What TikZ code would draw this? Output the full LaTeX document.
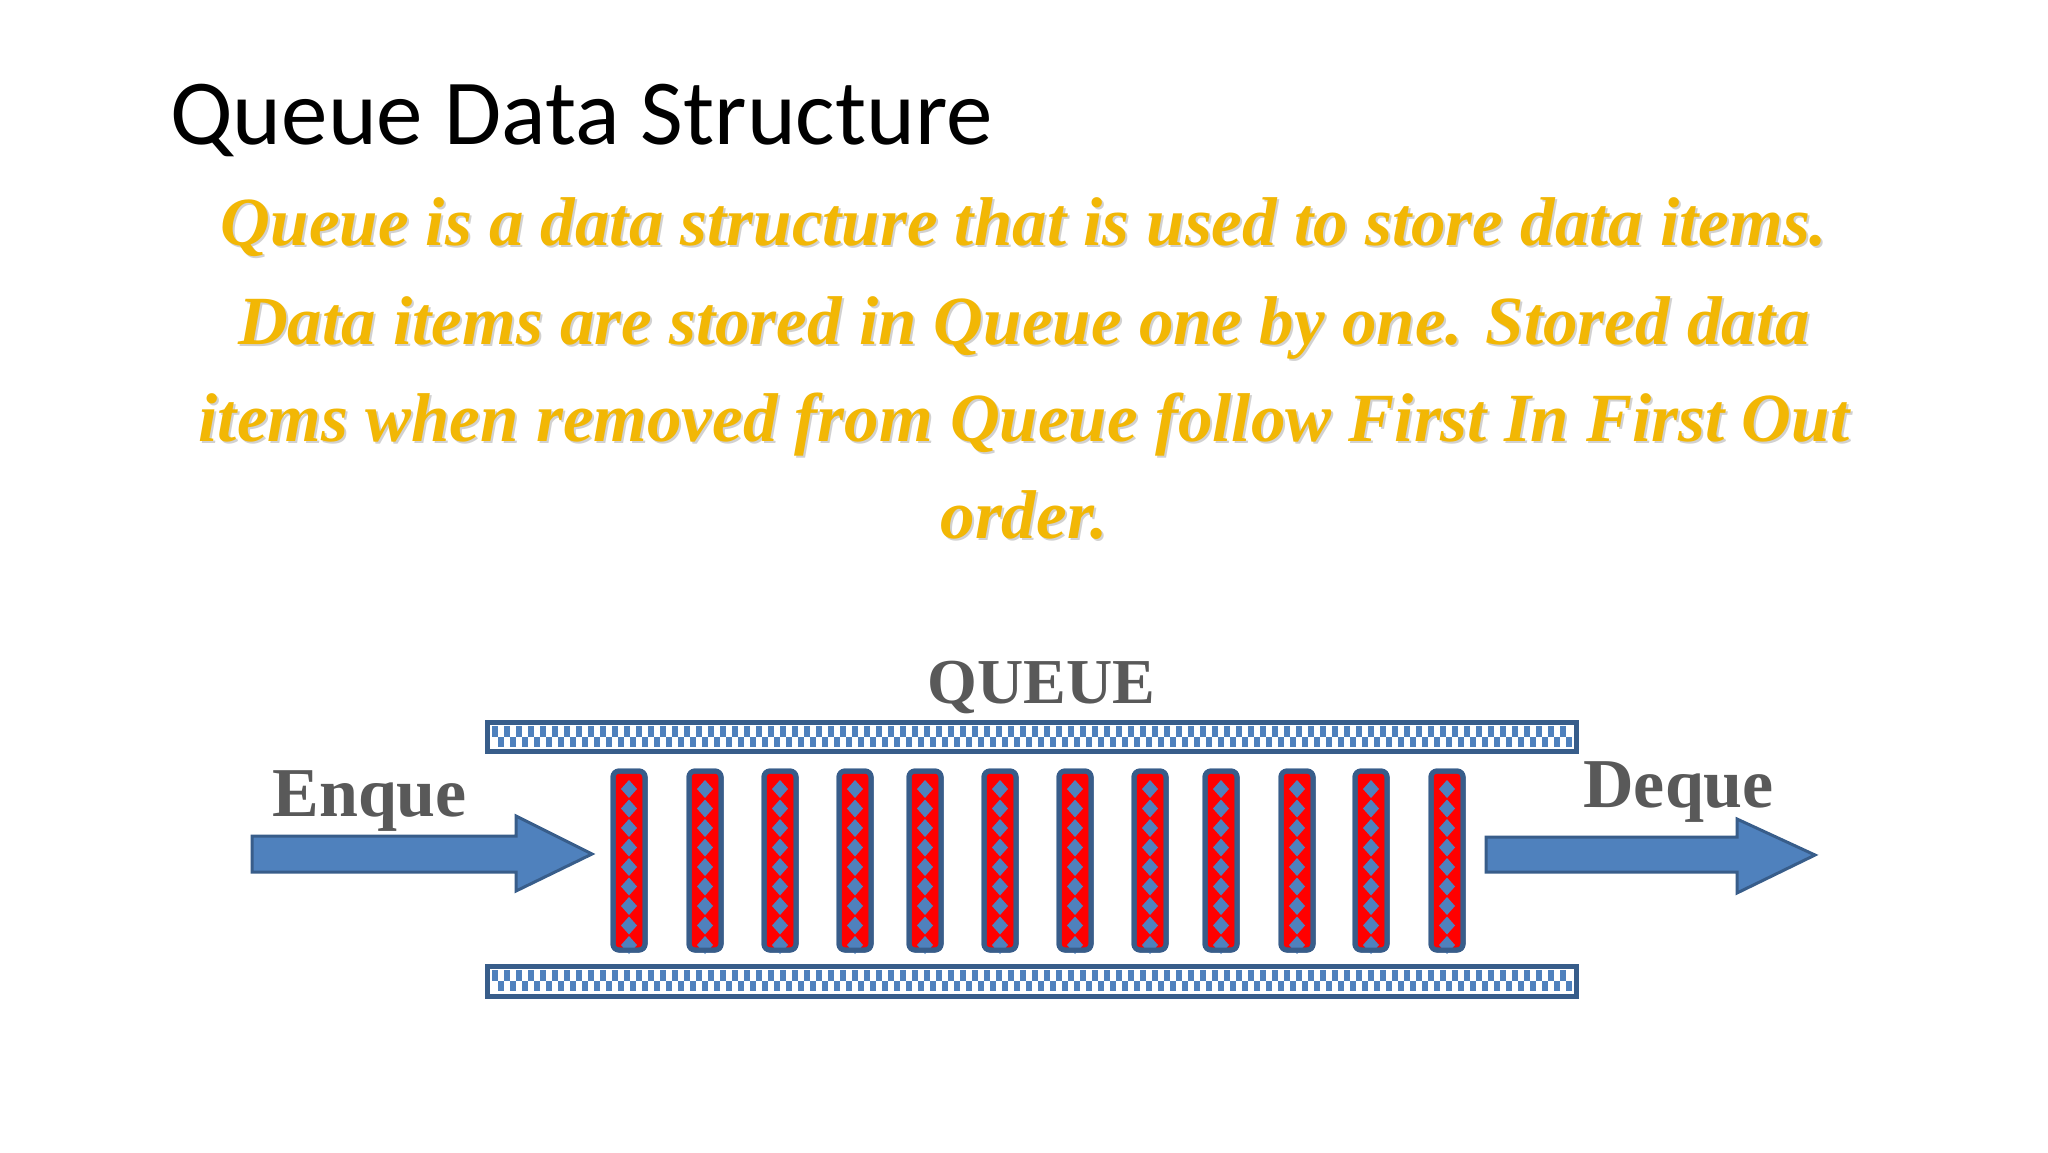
\documentclass[tikz,border=0pt]{standalone}
\usepackage{fontspec}
\setmainfont{Liberation Serif}
\newfontfamily\titlefont{Carlito}
\begin{document}
\begin{tikzpicture}[x=0.5pt,y=-0.5pt,
  qblue/.style={fill=qb,draw=qbd},
  lbl/.style={text=qgray,font=\fontsize{35}{35}\selectfont\bfseries,anchor=base west,inner sep=0},
  band/.style={draw=qbd,line width=2.5pt,fill=white},
  bar/.style={draw=qbd,line width=2.5pt,fill=red,rounded corners=3pt}]
\definecolor{qb}{HTML}{4F81BD}
\definecolor{qbd}{HTML}{385D8A}
\definecolor{qgray}{HTML}{595959}
\definecolor{qy}{HTML}{F2B705}
\useasboundingbox (0,0) rectangle (2048,1152);
\fill[white] (0,0) rectangle (2048,1152);
\node[anchor=base west,inner sep=0,font=\titlefont\fontsize{46.5}{46.5}\selectfont] (title) at (170,144) {Queue Data Structure};
\foreach \t/\y [count=\i] in {{Queue is a data structure that is used to store data items.}/245,{Data items are stored in Queue one by one. Stored data}/344,{items when removed from Queue follow First In First Out}/441,{order.}/538}{
  \node[anchor=base,inner sep=0,text=black!18,font=\fontsize{34.5}{34.5}\selectfont\bfseries\itshape] at (1026,\y+2) {\t};
  \node[anchor=base,inner sep=0,text=qy,font=\fontsize{34.5}{34.5}\selectfont\bfseries\itshape] (l\i) at (1024,\y) {\t};
}
% bands
\foreach \ya/\yb/\nm in {722/751/tb,966/996/bb}{
  \draw[band] (487,\ya) rectangle (1576,\yb);
  \foreach \k in {0,...,89}{
    \fill[qb] ({492+\k*12},\ya+4) rectangle ++(6,10.5);
    \fill[qb] ({498+\k*12},\ya+14.5) rectangle ++(6,10.5);
  }
}
% bars
\foreach \cx [count=\i] in {629,705,780,855,925,1000,1075,1150,1221,1297,1371,1447}{
  \draw[bar] (\cx-16,771) rectangle (\cx+16,950);
  \foreach \k in {0,...,8}{
    \fill[qb] (\cx,{780+\k*19.5}) -- ++(8,9) -- ++(-8,9) -- ++(-8,-9) -- cycle;
  }
  \draw[draw=qbd,line width=2.5pt,rounded corners=3pt] (\cx-16,771) rectangle (\cx+16,950);
}
% arrows
\draw[qblue,line width=1.5pt] (252,836) -- (516,836) -- (516,816) -- (592,854) -- (516,891) -- (516,872) -- (252,872) -- cycle;
\draw[qblue,line width=1.5pt] (1486,837) -- (1737,837) -- (1737,819) -- (1815,855) -- (1737,893) -- (1737,872) -- (1486,872) -- cycle;
\node[lbl] (enq) at (272,816) {Enque};
\node[lbl] (deq) at (1583,807) {Deque};
\node[lbl,font=\fontsize{32}{32}\selectfont\bfseries] (q) at (927,703) {QUEUE};
\end{tikzpicture}
\end{document}
